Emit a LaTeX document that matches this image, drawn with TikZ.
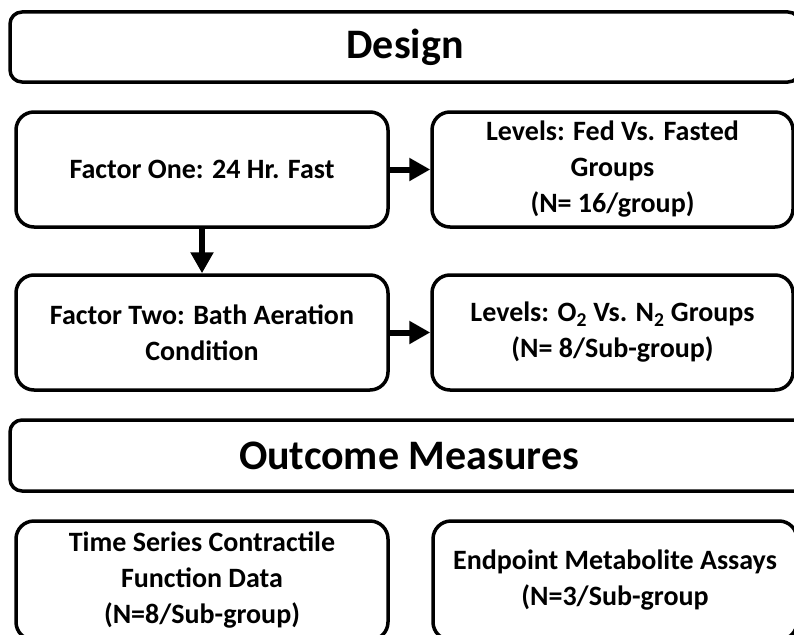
\documentclass[tikz,border=0pt]{standalone}
\usepackage{fontspec}
\setmainfont{Carlito}
\usetikzlibrary{arrows.meta}
\begin{document}
\begin{tikzpicture}[x=1pt,y=-1pt,
  box/.style={draw, line width=3.5pt, rounded corners=18pt, align=center,
    font=\fontsize{28}{36}\selectfont\bfseries, inner sep=0pt},
  titlebox/.style={draw, line width=3.5pt, rounded corners=12pt,
    font=\fontsize{42}{50}\selectfont\bfseries, inner sep=0pt},
  arr/.style={line width=6pt, -{Triangle[length=21pt,width=22pt]}}]
\clip (0,0) rectangle (794,634);
\fill[white] (0,0) rectangle (794,634);
\node[titlebox, minimum width=790pt, minimum height=70pt] (design) at (405,47) {Design};
\node[box, minimum width=372pt, minimum height=115pt] (f1) at (202,169.5) {Factor One: 24 Hr. Fast};
\node[box, minimum width=361pt, minimum height=115pt] (l1) at (612.5,169.5) {Levels: Fed Vs. Fasted\\Groups\\(N= 16/group)};
\node[box, minimum width=372pt, minimum height=115pt] (f2) at (202,332.5) {Factor Two: Bath Aeration\\Condition};
\node[box, minimum width=361pt, minimum height=115pt] (l2) at (612.5,332.5) {Levels: O\textsubscript{2} Vs. N\textsubscript{2} Groups\\(N= 8/Sub-group)};
\node[titlebox, minimum width=798pt, minimum height=71pt] (outcome) at (409,455.5) {Outcome Measures};
\node[box, minimum width=372pt, minimum height=119pt] (ts) at (202,580.5) {Time Series Contractile\\Function Data\\(N=8/Sub-group)};
\node[box, minimum width=364pt, minimum height=119pt] (ep) at (615,580.5) {Endpoint Metabolite Assays\\(N=3/Sub-group};
\draw[arr] (f1) -- (l1);
\draw[arr] (f2) -- (l2);
\draw[arr] (f1) -- (f2);
\end{tikzpicture}
\end{document}
